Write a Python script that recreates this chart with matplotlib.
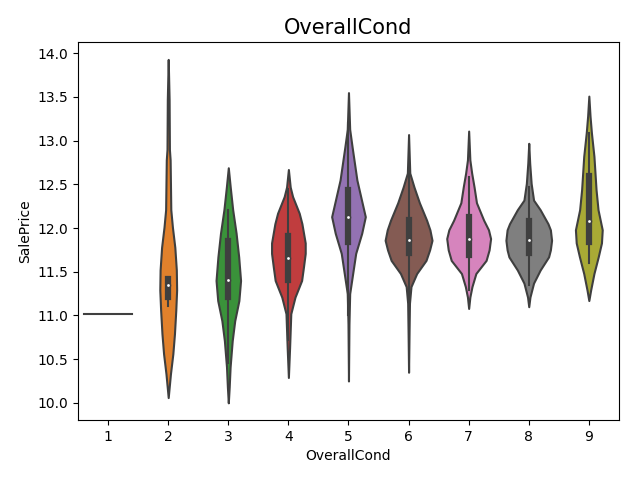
import numpy as np
import matplotlib
matplotlib.use('Agg')
from matplotlib import pyplot as plt

# categorias do eixo x
conds = [1, 2, 3, 4, 5, 6, 7, 8, 9]

# categoria 1 tem uma unica observacao
single_val = 11.02

# perfis de densidade (valor, meia-largura), categorias 2..9
prof_y = {
    2: [13.93, 13.47, 12.9, 12.78, 12.21, 12.01, 11.78, 11.52, 11.29, 11.06, 10.79, 10.56, 10.33, 10.06],
    3: [12.69, 12.47, 12.21, 11.94, 11.67, 11.40, 11.17, 10.94, 10.71, 10.41, 10.18, 10.0],
    4: [12.67, 12.47, 12.36, 12.17, 12.05, 11.83, 11.71, 11.55, 11.40, 11.21, 11.02, 10.63, 10.29],
    5: [13.55, 13.13, 12.93, 12.55, 12.13, 11.94, 11.71, 11.48, 11.25, 10.9, 10.25],
    6: [13.07, 12.63, 12.47, 12.29, 12.09, 11.98, 11.86, 11.75, 11.63, 11.48, 11.33, 11.14, 10.8, 10.35],
    7: [13.11, 12.78, 12.63, 12.47, 12.29, 12.09, 11.98, 11.88, 11.75, 11.63, 11.48, 11.33, 11.21, 11.08],
    8: [12.97, 12.74, 12.51, 12.32, 12.21, 12.05, 11.98, 11.86, 11.75, 11.67, 11.52, 11.37, 11.21, 11.10],
    9: [13.51, 13.28, 13.09, 12.82, 12.44, 12.21, 11.98, 11.83, 11.67, 11.48, 11.29, 11.17],
}
prof_w = {
    2: [0.0, 0.015, 0.02, 0.032, 0.043, 0.07, 0.11, 0.135, 0.14, 0.126, 0.104, 0.077, 0.037, 0.0],
    3: [0.0, 0.032, 0.073, 0.13, 0.173, 0.204, 0.176, 0.107, 0.065, 0.03, 0.015, 0.0],
    4: [0.0, 0.03, 0.07, 0.18, 0.225, 0.28, 0.28, 0.25, 0.22, 0.11, 0.04, 0.02, 0.0],
    5: [0.0, 0.02, 0.06, 0.14, 0.28, 0.22, 0.12, 0.07, 0.02, 0.008, 0.0],
    6: [0.0, 0.02, 0.09, 0.18, 0.30, 0.355, 0.39, 0.35, 0.29, 0.135, 0.04, 0.015, 0.008, 0.0],
    7: [0.0, 0.02, 0.05, 0.09, 0.13, 0.25, 0.33, 0.365, 0.34, 0.29, 0.12, 0.055, 0.02, 0.0],
    8: [0.0, 0.016, 0.04, 0.08, 0.19, 0.32, 0.36, 0.38, 0.36, 0.33, 0.19, 0.08, 0.02, 0.0],
    9: [0.0, 0.02, 0.043, 0.085, 0.12, 0.153, 0.223, 0.21, 0.156, 0.085, 0.03, 0.0],
}

# caixa interna: q1, mediana, q3, bigode inferior, bigode superior
q1 = [11.21, 11.21, 11.40, 11.84, 11.71, 11.69, 11.71, 11.84]
med = [11.35, 11.40, 11.66, 12.13, 11.86, 11.88, 11.86, 12.08]
q3 = [11.42, 11.85, 11.91, 12.43, 12.09, 12.13, 12.08, 12.60]
wlo = [11.11, 10.46, 10.72, 11.00, 11.15, 11.29, 11.35, 11.60]
whi = [11.42, 12.21, 12.45, 13.20, 12.65, 12.59, 12.47, 13.09]

cores = ['#3274a1', '#e1812c', '#3a923a', '#c03d3e', '#9372b2',
         '#845b53', '#d684bd', '#7f7f7f', '#a9aa35']
cinza = '#3f3f3f'

fig, ax = plt.subplots(figsize=(6.4, 4.8), dpi=100)

stats = []
pos = []
larg = []
for c in conds[1:]:
    y = np.array(prof_y[c])
    w = np.array(prof_w[c])
    stats.append({'coords': y, 'vals': w, 'mean': 0, 'median': 0,
                  'min': y.min(), 'max': y.max()})
    pos.append(conds.index(c))
    larg.append(2 * w.max())

parts = ax.violin(stats, positions=pos, widths=larg, showextrema=False)
for body, c in zip(parts['bodies'], cores[1:]):
    body.set_facecolor(c)
    body.set_edgecolor(cinza)
    body.set_linewidth(1.5)
    body.set_alpha(1)

for i, p in enumerate(pos):
    ax.plot([p, p], [wlo[i], whi[i]], color=cinza, lw=1.5, zorder=2)
    ax.plot([p, p], [q1[i], q3[i]], color=cinza, lw=4.5, zorder=2)
    ax.scatter(p, med[i], color='white', edgecolor=cinza, s=9, zorder=3)

ax.plot([-0.4, 0.4], [single_val, single_val], color=cinza, lw=1.5)

ax.set_xticks(range(len(conds)))
ax.set_xticklabels([str(c) for c in conds])
ax.set_xlim(-0.5, len(conds) - 0.5)
ax.set_xlabel('OverallCond')
ax.set_ylabel('SalePrice')
ax.set_title('OverallCond', fontsize=15)

plt.subplots_adjust(left=0.122, right=0.967, top=0.912, bottom=0.125)
plt.savefig('out.png')
